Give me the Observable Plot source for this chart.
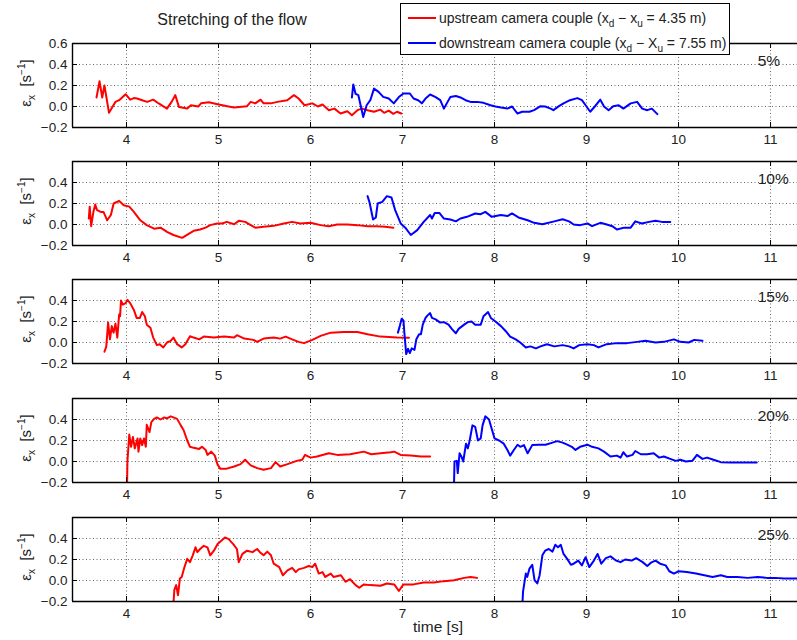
<!DOCTYPE html>
<html>
<head>
<meta charset="utf-8">
<script src="https://cdn.jsdelivr.net/npm/d3@7"></script>
<script src="https://cdn.jsdelivr.net/npm/@observablehq/plot@0.6"></script>
<style>
  html, body { margin:0; padding:0; background:#fff; }
  body { width:797px; height:640px; overflow:hidden; position:relative; font-family:"Liberation Sans", Arial, Helvetica, sans-serif; color:#222; }
  .panel { position:absolute; left:0; }
  .title { position:absolute; left:232px; top:11px; transform:translateX(-50%); font-size:16px; white-space:nowrap; }
  .legend { position:absolute; left:400px; top:3px; width:328px; height:50px; border:1px solid #000; background:#fff; z-index:5; font-size:14px; }
  .legend .row { position:absolute; left:0; height:16px; line-height:16px; white-space:nowrap; }
  .legend .sw { position:absolute; left:7px; width:28px; height:2px; top:7px; }
  .legend .tx { position:absolute; left:38px; top:0; }
  sub, sup { font-size:10px; line-height:0; position:relative; vertical-align:baseline; }
  sub { top:4px; } sup { top:-6px; }
  .ylab { position:absolute; left:25px; font-size:15px; white-space:nowrap; line-height:1; transform:translate(-50%,-50%) rotate(-90deg); }
  .xlab { position:absolute; left:438px; top:618px; transform:translateX(-50%); font-size:15.5px; white-space:nowrap; }
</style>
</head>
<body>
<div class="title">Stretching of the flow</div>
<div class="legend">
  <div class="row" style="top:6px"><div class="sw" style="background:#ff0000"></div><div class="tx">upstream camera couple (x<sub>d</sub> − x<sub>u</sub> = 4.35 m)</div></div>
  <div class="row" style="top:31px"><div class="sw" style="background:#0000ff"></div><div class="tx">downstream camera couple (x<sub>d</sub> − X<sub>u</sub> = 7.55 m)</div></div>
</div>
<div class="xlab">time [s]</div>
<div id="charts"></div>
<script>
// ---------- data (time [s], strain rate [1/s]) ----------
const labels = ["5%", "10%", "15%", "20%", "25%"];
const xTicks = [4, 5, 6, 7, 8, 9, 10, 11];
const yTicksFirst = [-0.2, 0, 0.2, 0.4, 0.6];
const yTicksOther = [-0.2, 0, 0.2, 0.4];
const yGrid = [0, 0.2, 0.4];

const up5 = [[3.674,0.086],[3.707,0.24],[3.736,0.086],[3.76,0.2],[3.81,-0.06],[3.85,0.0],[3.88,0.044],[3.92,0.06],[3.99,0.117],[4.04,0.065],[4.08,0.08],[4.116,0.076],[4.17,0.06],[4.225,0.044],[4.29,0.065],[4.35,0.029],[4.44,-0.02],[4.49,0.044],[4.53,0.108],[4.57,-0.004],[4.66,-0.02],[4.7,0.012],[4.78,0],[4.81,0.03],[4.895,0.04],[4.99,0.022],[5.095,0.003],[5.17,-0.01],[5.31,0.003],[5.35,0.044],[5.4,0.03],[5.457,0.065],[5.49,0.03],[5.57,0.03],[5.64,0.044],[5.747,0.06],[5.82,0.108],[5.87,0.076],[5.935,0.012],[6.02,0.03],[6.08,0],[6.13,0.02],[6.2,-0.035],[6.26,-0.02],[6.326,-0.067],[6.4,-0.045],[6.45,-0.083],[6.51,-0.035],[6.56,-0.02],[6.62,-0.035],[6.69,-0.05],[6.76,-0.03],[6.8,-0.06],[6.85,-0.04],[6.9,-0.07],[6.94,-0.05],[6.986,-0.067]];
const down5 = [[6.45,0.086],[6.465,0.21],[6.49,0.12],[6.52,0.108],[6.573,-0.1],[6.61,0.012],[6.65,0.06],[6.69,0.17],[6.74,0.14],[6.79,0.092],[6.85,0.076],[6.905,0.03],[6.96,0.09],[7.01,0.124],[7.08,0.124],[7.12,0.076],[7.17,0.06],[7.21,0.03],[7.25,0.076],[7.30,0.114],[7.36,0.09],[7.41,0.06],[7.45,-0.02],[7.49,0.044],[7.52,0.09],[7.58,0.10],[7.63,0.086],[7.685,0.06],[7.74,0.044],[7.81,0.044],[7.88,0.035],[7.957,0.012],[8.01,0],[8.07,-0.01],[8.14,-0.02],[8.19,0],[8.25,-0.067],[8.30,-0.05],[8.38,-0.05],[8.43,-0.035],[8.5,0.003],[8.55,0],[8.61,-0.02],[8.64,-0.035],[8.70,0.003],[8.75,0.03],[8.82,0.06],[8.90,0.08],[8.95,0.06],[8.99,0.012],[9.04,-0.05],[9.09,0],[9.15,0.065],[9.19,0],[9.24,-0.035],[9.29,0.003],[9.35,0.012],[9.40,-0.02],[9.48,0.03],[9.55,0.044],[9.605,-0.02],[9.66,-0.035],[9.71,-0.02],[9.77,-0.073]];

const up10 = [[3.59,0.057],[3.60,0.17],[3.616,-0.016],[3.64,0.12],[3.66,0.19],[3.68,0.137],[3.72,0.12],[3.75,0.12],[3.79,0.04],[3.83,0.09],[3.86,0.2],[3.92,0.225],[3.97,0.184],[4.03,0.17],[4.08,0.12],[4.15,0.04],[4.22,-0.006],[4.30,-0.04],[4.37,-0.03],[4.44,-0.07],[4.51,-0.10],[4.605,-0.127],[4.68,-0.086],[4.73,-0.06],[4.80,-0.048],[4.86,-0.03],[4.91,-0.006],[4.985,0.01],[5.04,0.01],[5.09,0.025],[5.17,0.003],[5.22,0.035],[5.29,0.025],[5.35,-0.006],[5.40,-0.03],[5.49,-0.022],[5.60,-0.013],[5.71,0.01],[5.80,0.025],[5.89,0.01],[6.0,0.016],[6.11,-0.006],[6.2,-0.016],[6.29,0],[6.40,0],[6.51,-0.006],[6.62,-0.016],[6.72,-0.016],[6.81,-0.022],[6.90,-0.03]];
const down10 = [[6.62,0.27],[6.64,0.216],[6.68,0.048],[6.71,0.067],[6.73,0.2],[6.78,0.216],[6.83,0.27],[6.88,0.257],[6.92,0.137],[6.98,0.01],[7.03,-0.03],[7.09,-0.10],[7.16,-0.054],[7.23,0.025],[7.30,0.09],[7.32,0.057],[7.35,0.11],[7.40,0.11],[7.45,0.057],[7.52,0.048],[7.58,0.03],[7.63,0.057],[7.70,0.073],[7.79,0.105],[7.85,0.098],[7.90,0.12],[7.97,0.073],[8.07,0.09],[8.14,0.08],[8.19,0.105],[8.26,0.067],[8.36,0.04],[8.43,0.016],[8.52,0.003],[8.65,0.03],[8.74,0.05],[8.81,0.03],[8.86,0],[8.93,-0.006],[9.01,0.01],[9.06,-0.016],[9.15,0.016],[9.22,0],[9.28,-0.016],[9.33,-0.048],[9.41,-0.03],[9.48,-0.03],[9.53,0.03],[9.60,0.01],[9.68,0.025],[9.75,0.035],[9.82,0.025],[9.91,0.025]];

const up15 = [[3.76,-0.088],[3.78,-0.04],[3.80,0.19],[3.82,0.03],[3.84,0.156],[3.86,0.094],[3.88,0.18],[3.90,0.047],[3.92,0.266],[3.93,0.25],[3.94,0.4],[3.96,0.36],[3.99,0.375],[4.01,0.406],[4.04,0.375],[4.08,0.31],[4.11,0.234],[4.145,0.234],[4.17,0.29],[4.20,0.25],[4.22,0.17],[4.26,0.14],[4.29,0.047],[4.33,-0.025],[4.36,-0.016],[4.40,-0.047],[4.44,0],[4.48,0.016],[4.51,0.047],[4.55,-0.016],[4.60,-0.047],[4.64,-0.016],[4.69,0.06],[4.73,0.047],[4.79,0.03],[4.84,0.056],[4.95,0.047],[5.06,0.056],[5.17,0.047],[5.20,0.07],[5.28,0.037],[5.38,0.025],[5.42,0.006],[5.49,0.037],[5.60,0.047],[5.67,0.037],[5.73,0.056],[5.80,0.03],[5.87,0.006],[5.93,-0.006],[6.02,0.025],[6.11,0.063],[6.22,0.094],[6.36,0.1],[6.51,0.1],[6.62,0.078],[6.76,0.056],[6.94,0.047],[7.07,0.045]];
const down15 = [[6.95,0.094],[6.97,0.156],[6.99,0.225],[7.01,0.21],[7.02,0.094],[7.04,-0.11],[7.06,-0.06],[7.08,-0.1],[7.10,-0.056],[7.13,-0.07],[7.15,0.03],[7.18,0.078],[7.20,0.078],[7.22,0.17],[7.25,0.234],[7.27,0.256],[7.30,0.28],[7.32,0.234],[7.36,0.22],[7.41,0.19],[7.45,0.194],[7.50,0.17],[7.54,0.125],[7.58,0.088],[7.61,0.13],[7.67,0.17],[7.71,0.194],[7.75,0.2],[7.79,0.17],[7.85,0.17],[7.88,0.25],[7.93,0.29],[7.96,0.234],[8.01,0.2],[8.07,0.156],[8.12,0.11],[8.17,0.056],[8.23,0.03],[8.28,0],[8.34,-0.047],[8.39,-0.037],[8.45,-0.056],[8.50,-0.037],[8.57,-0.016],[8.65,-0.037],[8.74,-0.025],[8.81,-0.037],[8.86,-0.056],[8.92,-0.025],[9.01,-0.016],[9.08,-0.025],[9.13,-0.047],[9.22,-0.016],[9.33,-0.006],[9.44,-0.006],[9.55,0.006],[9.64,0.016],[9.75,0],[9.84,0.006],[9.95,0.03],[10.02,0.006],[10.11,0],[10.17,0.025],[10.26,0.016]];

const up20 = [[4.0,-0.6],[4.01,0],[4.03,0.256],[4.05,0.14],[4.07,0.234],[4.09,0.125],[4.12,0.22],[4.13,0.094],[4.15,0.22],[4.17,0.156],[4.19,0.22],[4.21,0.14],[4.22,0.35],[4.25,0.28],[4.27,0.375],[4.30,0.406],[4.33,0.42],[4.37,0.4],[4.41,0.42],[4.44,0.41],[4.48,0.43],[4.51,0.42],[4.55,0.406],[4.59,0.344],[4.62,0.3],[4.66,0.2],[4.69,0.14],[4.73,0.13],[4.79,0.12],[4.82,0.14],[4.86,0.11],[4.88,0.063],[4.92,0.094],[4.96,0.056],[4.99,-0.03],[5.02,-0.07],[5.08,-0.07],[5.17,-0.047],[5.24,-0.025],[5.29,0.016],[5.35,-0.037],[5.42,-0.063],[5.49,-0.078],[5.57,-0.063],[5.62,-0.006],[5.67,-0.047],[5.75,-0.025],[5.85,0.006],[5.91,0.016],[5.94,0.063],[6.0,0.037],[6.07,0.047],[6.20,0.078],[6.29,0.063],[6.43,0.069],[6.58,0.094],[6.66,0.069],[6.76,0.078],[6.87,0.088],[6.91,0.094],[6.98,0.063],[7.09,0.056],[7.20,0.047],[7.30,0.047]];
const down20 = [[7.55,-0.6],[7.565,0],[7.59,0.006],[7.60,-0.11],[7.62,0.078],[7.64,0.047],[7.66,0],[7.69,0.17],[7.71,0.125],[7.73,0.2],[7.76,0.344],[7.79,0.33],[7.82,0.2],[7.85,0.22],[7.87,0.344],[7.90,0.43],[7.94,0.4],[7.97,0.31],[8.0,0.22],[8.05,0.2],[8.10,0.17],[8.14,0.11],[8.17,0.056],[8.21,0.11],[8.25,0.16],[8.28,0.14],[8.32,0.156],[8.36,0.078],[8.41,0.156],[8.48,0.16],[8.555,0.16],[8.63,0.18],[8.68,0.194],[8.74,0.18],[8.79,0.16],[8.84,0.14],[8.88,0.11],[8.93,0.14],[9.01,0.16],[9.06,0.14],[9.13,0.125],[9.19,0.094],[9.26,0.047],[9.33,0.056],[9.37,0.037],[9.40,0.088],[9.44,0.047],[9.50,0.063],[9.53,0.1],[9.59,0.069],[9.66,0.069],[9.73,0.078],[9.79,0.037],[9.84,0.047],[9.91,0.025],[9.97,0.006],[10.02,0.016],[10.08,0],[10.15,0.006],[10.20,0.063],[10.26,0.025],[10.31,0.037],[10.38,0.016],[10.46,-0.006],[10.57,-0.01],[10.71,-0.01],[10.85,-0.01]];

const up25 = [[4.48,-0.6],[4.52,-0.09],[4.54,-0.044],[4.56,-0.14],[4.58,0.019],[4.60,0.034],[4.63,0.128],[4.66,0.206],[4.69,0.175],[4.72,0.24],[4.75,0.316],[4.77,0.27],[4.80,0.3],[4.84,0.33],[4.88,0.316],[4.91,0.24],[4.95,0.284],[4.99,0.347],[5.03,0.378],[5.07,0.41],[5.11,0.394],[5.16,0.347],[5.20,0.3],[5.22,0.175],[5.26,0.253],[5.31,0.284],[5.37,0.27],[5.42,0.3],[5.45,0.27],[5.49,0.24],[5.53,0.275],[5.57,0.24],[5.60,0.16],[5.66,0.128],[5.70,0.05],[5.75,0.097],[5.80,0.12],[5.84,0.08],[5.87,0.106],[5.93,0.12],[5.98,0.138],[6.02,0.128],[6.05,0.16],[6.09,0.066],[6.13,0.08],[6.16,0.034],[6.22,0.066],[6.25,0.034],[6.33,0.05],[6.38,-0.012],[6.43,0.012],[6.49,-0.044],[6.53,-0.069],[6.58,-0.037],[6.65,-0.044],[6.76,-0.05],[6.83,-0.028],[6.91,-0.037],[6.96,-0.1],[7.01,-0.037],[7.12,-0.037],[7.23,-0.019],[7.34,-0.019],[7.45,-0.006],[7.56,0.003],[7.67,0.025],[7.74,0.034],[7.81,0.025]];
const down25 = [[8.28,-0.6],[8.31,-0.106],[8.34,0.066],[8.355,0.034],[8.38,0.113],[8.41,0.15],[8.435,0.003],[8.465,-0.028],[8.49,0.05],[8.52,0.24],[8.55,0.284],[8.59,0.3],[8.63,0.275],[8.66,0.34],[8.69,0.316],[8.72,0.34],[8.75,0.253],[8.79,0.206],[8.83,0.15],[8.86,0.16],[8.91,0.19],[8.95,0.144],[8.99,0.222],[9.03,0.128],[9.08,0.19],[9.12,0.253],[9.16,0.16],[9.21,0.213],[9.26,0.23],[9.32,0.19],[9.37,0.175],[9.42,0.2],[9.49,0.19],[9.54,0.213],[9.61,0.175],[9.66,0.138],[9.70,0.17],[9.75,0.19],[9.80,0.16],[9.86,0.144],[9.90,0.088],[9.95,0.066],[10.0,0.088],[10.09,0.08],[10.19,0.066],[10.28,0.05],[10.37,0.034],[10.46,0.05],[10.53,0.034],[10.64,0.034],[10.75,0.025],[10.86,0.034],[10.96,0.025],[11.05,0.025],[11.15,0.019],[11.29,0.019],[11.4,0.02]];

const upstream = [up5, up10, up15, up20, up25];
const downstream = [down5, down10, down15, down20, down25];

// ---------- layout ----------
const frameTops = [43, 161, 279, 398, 517];
const frameH = 84;
const mTop = 12, mBottom = 26;
const xDomain = [3.413, 11.293];
const yDomain = [-0.2, 0.6];
const tickLenX = (xDomain[1] - xDomain[0]) * 5 / 725;
const tickLenY = (yDomain[1] - yDomain[0]) * 5 / frameH;
const font = '"Liberation Sans", Arial, Helvetica, sans-serif';

const container = document.getElementById("charts");
labels.forEach((lab, i) => {
  const yTicks = i === 0 ? yTicksFirst : yTicksOther;
  const up = upstream[i].map(([t, e]) => ({t, e}));
  const down = downstream[i].map(([t, e]) => ({t, e}));
  const chart = Plot.plot({
    width: 797,
    height: mTop + frameH + mBottom,
    marginLeft: 72, marginRight: 0, marginTop: mTop, marginBottom: mBottom,
    style: {fontFamily: font, fontSize: "13.5px", color: "#222", background: "none", overflow: "visible"},
    x: {domain: xDomain, ticks: xTicks, tickSize: 0, tickPadding: 7, label: null},
    y: {domain: yDomain, ticks: yTicks, tickSize: 0, tickPadding: 5, label: null},
    marks: [
      Plot.ruleX(xTicks, {stroke: "#333", strokeOpacity: 0.75, strokeDasharray: "1,2.5"}),
      Plot.ruleY(yGrid, {stroke: "#333", strokeOpacity: 0.75, strokeDasharray: "1,2.5"}),
      Plot.line(up, {x: "t", y: "e", stroke: "#ff0000", strokeWidth: 2, clip: true}),
      Plot.line(down, {x: "t", y: "e", stroke: "#0000ff", strokeWidth: 2, clip: true}),
      Plot.ruleX(xTicks, {y1: yDomain[0], y2: yDomain[0] + tickLenY, stroke: "#000"}),
      Plot.ruleX(xTicks, {y1: yDomain[1], y2: yDomain[1] - tickLenY, stroke: "#000"}),
      Plot.ruleY(yTicks, {x1: xDomain[0], x2: xDomain[0] + tickLenX, stroke: "#000"}),
      Plot.ruleY(yDomain, {stroke: "#000", strokeWidth: 1.4}),
      Plot.ruleX([xDomain[0]], {stroke: "#000", strokeWidth: 1.4}),
      Plot.text([lab], {x: 10.86, y: 0.43, text: d => d, textAnchor: "start", fontSize: 15.5, fill: "#222"})
    ]
  });
  const wrap = document.createElement("div");
  wrap.className = "panel";
  wrap.style.top = (frameTops[i] - mTop) + "px";
  wrap.appendChild(chart);
  container.appendChild(wrap);

  const yl = document.createElement("div");
  yl.className = "ylab";
  yl.style.top = (frameTops[i] + frameH / 2 - 2) + "px";
  yl.innerHTML = "ε<sub>x</sub>&nbsp;&nbsp;[s<sup>−1</sup>]";
  document.body.appendChild(yl);
});
</script>
</body>
</html>
